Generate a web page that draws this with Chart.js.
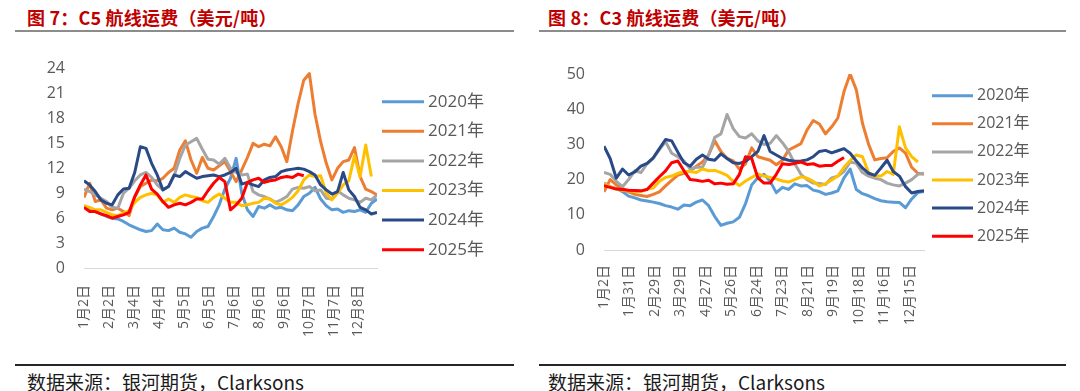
<!DOCTYPE html>
<html>
<head>
<meta charset="utf-8">
<script src="https://cdn.jsdelivr.net/npm/chart.js@4.4.1/dist/chart.umd.min.js"></script>
<style>
  html, body { margin: 0; padding: 0; background: #fff; }
  body { width: 1080px; height: 391px; position: relative; overflow: hidden; font-family: "Noto Sans CJK SC", sans-serif; }
  .title { position: absolute; top: 4px; font-size: 18px; font-weight: bold; color: #c00000; white-space: nowrap; letter-spacing: 0.2px; }
  .rule { position: absolute; height: 2px; background: #8c8c8c; }
  .rule.bottom { background: #262626; }
  .source { position: absolute; top: 368px; font-size: 19px; color: #1a1a1a; white-space: nowrap; }
  .box { position: absolute; top: 40px; width: 540px; height: 320px; }
</style>
</head>
<body>
<div class="title" style="left:27px">图 7：C5 航线运费（美元/吨）</div>
<div class="title" style="left:548px">图 8：C3 航线运费（美元/吨）</div>
<div class="rule" style="left:15px; top:30px; width:499px"></div>
<div class="rule" style="left:539px; top:30px; width:527px"></div>

<div class="box" style="left:0"><canvas id="c5Chart"></canvas></div>
<div class="box" style="left:540px"><canvas id="c3Chart"></canvas></div>

<div class="rule bottom" style="left:15px; top:364px; width:499px"></div>
<div class="rule bottom" style="left:539px; top:364px; width:527px"></div>
<div class="source" style="left:27px">数据来源：银河期货，Clarksons</div>
<div class="source" style="left:548px">数据来源：银河期货，Clarksons</div>

<script>
// Sample days (day 0 = 1月2日), weekly
const days = [0, 7, 14, 21, 28, 35, 42, 49, 56, 63, 70, 77, 84, 91, 98, 105, 112, 119, 126, 133,
    140, 147, 154, 161, 168, 175, 182, 189, 196, 203, 210, 217, 224, 231, 238, 245, 252, 259, 266, 273,
    280, 287, 294, 301, 308, 315, 322, 329, 336, 343, 350, 357, 364];

const years = ['2020年', '2021年', '2022年', '2023年', '2024年', '2025年'];
const colors = ['#5b9bd5', '#ed7d31', '#a5a5a5', '#ffc000', '#2a4a87', '#ff0000'];

// C5 (美元/吨)
const c5_2020 = [7.5, 7.0, 6.8, 6.5, 6.2, 6.0, 5.9, 5.6, 5.2, 4.9, 4.6, 4.4, 4.5, 5.3, 4.6, 4.5, 4.8, 4.3, 4.1, 3.7,
    4.4, 4.8, 5.0, 6.2, 7.6, 9.5, 10.8, 13.2, 9.0, 7.0, 6.2, 7.4, 7.2, 7.6, 7.2, 7.3, 7.0, 6.9, 7.6, 8.6,
    9.0, 9.7, 8.3, 7.5, 7.0, 7.1, 6.7, 6.9, 6.8, 7.0, 6.7, 7.8, 8.3];
const c5_2021 = [8.5, 10.2, 8.0, 8.2, 7.2, 7.0, 7.2, 6.8, 6.3, 8.5, 9.8, 10.2, 10.6, 10.5, 10.8, 11.5, 12.0, 14.2, 15.3, 13.0,
    11.4, 13.3, 12.0, 11.8, 12.3, 12.8, 11.6, 10.4, 11.8, 13.3, 15.0, 14.6, 14.9, 14.7, 15.8, 14.6, 12.8, 16.5, 19.8, 22.6,
    23.4, 18.5, 15.2, 12.6, 10.6, 12.0, 12.8, 13.0, 14.5, 11.0, 9.5, 9.2, 8.8];
const c5_2022 = [9.5, 9.2, 8.8, 8.4, 8.0, 7.3, 7.2, 9.0, 9.6, 10.5, 11.2, 11.5, 10.9, 10.0, 9.4, 9.8, 11.1, 13.2, 14.8, 15.2,
    15.6, 14.3, 13.1, 13.0, 12.5, 13.2, 12.0, 11.5, 11.2, 11.3, 9.2, 8.8, 8.6, 8.3, 7.9, 8.2, 8.6, 9.5, 9.7, 9.6,
    9.8, 9.3, 9.4, 8.4, 8.3, 9.3, 8.8, 8.4, 8.2, 7.9, 8.4, 8.2, 8.8];
const c5_2023 = [7.5, 7.3, 7.0, 7.0, 6.7, 6.4, 6.3, 6.6, 6.9, 7.9, 8.5, 8.8, 9.0, 8.8, 7.9, 8.3, 7.9, 8.5, 8.8, 8.6,
    8.5, 8.1, 7.9, 8.5, 8.9, 8.4, 7.9, 7.9, 7.5, 7.6, 7.8, 7.9, 8.4, 8.3, 7.8, 7.6, 8.0, 8.5, 9.3, 10.6,
    11.2, 11.0, 11.1, 9.0, 8.2, 9.0, 10.0, 10.5, 13.5, 11.0, 14.8, 11.0];
const c5_2024 = [10.5, 10.0, 9.2, 8.2, 7.8, 7.6, 8.8, 9.5, 9.6, 11.5, 14.6, 14.4, 12.6, 11.2, 9.4, 9.8, 11.2, 11.0, 11.6, 11.2,
    10.8, 11.0, 11.1, 11.2, 11.0, 11.2, 11.5, 12.0, 10.1, 10.3, 10.0, 9.8, 10.6, 10.9, 11.0, 11.6, 11.8, 11.9, 12.0, 11.9,
    11.6, 11.2, 10.0, 9.4, 8.9, 9.2, 11.5, 9.4, 8.6, 7.3, 7.0, 6.5, 6.7];
const c5_2025 = [7.3, 6.8, 6.8, 6.5, 6.3, 6.0, 6.2, 6.4, 6.7, 8.6, 10.0, 11.2, 9.5, 8.9, 8.0, 7.3, 7.6, 7.8, 7.6, 7.9,
    8.3, 8.3, 9.3, 10.2, 10.9, 10.4, 7.0, 7.6, 8.4, 10.3, 10.6, 10.8, 10.3, 10.5, 10.6, 10.9, 11.0, 10.9, 11.3, 11.1];

// C3 (美元/吨)
const c3_2020 = [19.0, 18.0, 17.5, 16.6, 15.3, 14.8, 14.2, 13.9, 13.6, 13.2, 12.6, 12.2, 11.6, 12.8, 12.6, 13.6, 14.2, 12.6, 9.5, 7.0,
    7.6, 8.0, 9.3, 13.2, 18.5, 20.5, 21.5, 19.5, 16.3, 17.8, 17.2, 18.8, 18.2, 18.3, 17.0, 16.6, 15.8, 16.2, 16.8, 20.5,
    23.0, 17.2, 16.0, 15.4, 14.6, 14.0, 13.7, 13.6, 13.5, 12.0, 14.5, 16.3, 16.6];
const c3_2021 = [16.5, 20.0, 18.5, 17.5, 16.5, 15.8, 15.5, 15.2, 15.8, 16.5, 18.2, 19.8, 21.3, 21.8, 22.5, 23.8, 25.0, 27.0, 31.0, 28.0,
    26.0, 25.3, 23.0, 24.5, 29.0, 26.5, 26.0, 25.5, 24.2, 25.5, 28.4, 29.3, 30.2, 34.1, 36.8, 35.8, 33.0, 35.0, 37.5, 45.0,
    50.0, 45.5, 36.0, 30.0, 25.6, 26.0, 26.2, 28.0, 29.0, 27.5, 23.5, 21.8, 21.5];
const c3_2022 = [22.0, 21.5, 19.5, 18.0, 20.0, 22.5, 22.0, 24.5, 26.0, 28.5, 30.8, 27.5, 26.5, 25.3, 23.0, 23.5, 23.5, 27.0, 32.0, 33.0,
    38.5, 34.5, 32.2, 31.8, 33.0, 31.0, 30.0, 30.3, 32.5, 30.5, 28.0, 24.5, 21.5, 20.0, 19.0, 18.9, 18.6, 20.5, 21.0, 22.3,
    25.0, 24.6, 22.0, 21.0, 20.4, 20.0, 19.0, 18.5, 18.2, 19.0, 20.0, 21.5, 21.8];
const c3_2023 = [18.8, 18.0, 17.3, 17.0, 16.8, 16.6, 16.6, 17.3, 17.6, 19.5, 20.6, 21.0, 21.8, 22.3, 22.3, 22.0, 23.0, 22.5, 22.6, 22.0,
    21.2, 19.5, 18.3, 19.6, 20.6, 21.6, 21.0, 20.6, 20.2, 19.6, 19.3, 20.0, 20.8, 20.4, 19.5, 18.2, 18.8, 19.9, 21.0, 23.5,
    25.4, 27.0, 26.5, 22.0, 21.0, 21.0, 22.3, 21.5, 35.0, 29.0, 26.5, 25.0];
const c3_2024 = [29.5, 26.0, 20.4, 23.0, 21.3, 22.2, 23.8, 24.6, 26.2, 28.8, 31.4, 31.0, 27.8, 24.8, 23.8, 25.8, 27.0, 25.8, 25.5, 27.3,
    26.0, 24.8, 24.6, 25.2, 26.5, 28.0, 32.5, 28.0, 27.0, 26.0, 25.5, 25.2, 25.3, 25.6, 26.5, 28.0, 28.3, 27.6, 28.2, 28.8,
    27.5, 25.3, 23.3, 21.8, 21.2, 23.3, 25.5, 22.3, 21.0, 18.0, 16.2, 16.6, 16.8];
const c3_2025 = [18.3, 17.8, 17.3, 17.2, 17.0, 16.9, 16.8, 17.2, 19.0, 20.8, 22.5, 24.8, 25.3, 22.5, 20.0, 19.8, 19.5, 19.8, 18.8, 19.0,
    18.7, 18.8, 21.5, 26.5, 26.0, 20.5, 19.0, 19.0, 21.5, 24.5, 24.3, 24.6, 25.0, 24.3, 24.5, 23.8, 24.0, 24.0, 25.2, 26.3];

// Tick labels
const c5Ticks = ['1月2日', '2月2日', '3月4日', '4月4日', '5月5日', '6月5日', '7月6日', '8月6日', '9月6日', '10月7日', '11月7日', '12月8日'];
const c3Ticks = ['1月2日', '1月31日', '2月29日', '3月29日', '4月27日', '5月26日', '6月24日', '7月23日', '8月21日', '9月19日', '10月18日', '11月16日', '12月15日'];

Chart.defaults.font.family = '"Open Sans", "Noto Sans CJK SC", sans-serif';
Chart.defaults.color = '#595959';

// legend drawn as short line + text, Excel style
const lineLegend = {
    id: 'lineLegend',
    afterDraw(chart, args, opts) {
        const c = chart.ctx;
        c.save();
        c.font = opts.font;
        c.textBaseline = 'middle';
        chart.data.datasets.forEach((ds, i) => {
            const y = opts.y + i * opts.gap;
            c.strokeStyle = ds.borderColor;
            c.lineWidth = 3;
            c.beginPath();
            c.moveTo(opts.x, y);
            c.lineTo(opts.x + opts.len, y);
            c.stroke();
            c.fillStyle = '#595959';
            c.fillText(ds.label, opts.x + opts.len + 4, y);
        });
        c.restore();
    }
};

function buildChart(id, series, ticks, step, yMax, yStep, g) {
    const datasets = series.map((vals, i) => ({
        label: years[i],
        data: vals.map((v, j) => ({ x: days[j], y: v })),
        borderColor: colors[i],
        backgroundColor: colors[i],
        borderWidth: 3,
        pointRadius: 0,
        tension: 0,
        borderJoinStyle: 'round',
        order: series.length - i
    }));

    return new Chart(document.getElementById(id), {
        type: 'line',
        data: { datasets },
        plugins: [lineLegend],
        options: {
            responsive: true,
            maintainAspectRatio: false,
            animation: false,
            layout: { padding: { left: 0, right: g.padRight, top: g.padTop, bottom: 0 } },
            scales: {
                x: {
                    type: 'linear',
                    min: 0,
                    max: 364,
                    afterBuildTicks: s => { s.ticks = ticks.map((t, i) => ({ value: i * step })); },
                    afterFit: s => { s.height = g.xHeight; },
                    grid: { display: false, drawTicks: false },
                    border: { color: '#d9d9d9', width: 1 },
                    ticks: {
                        autoSkip: false,
                        minRotation: 90,
                        maxRotation: 90,
                        padding: g.xPad,
                        font: { size: 14 },
                        callback: (v, i) => ticks[i]
                    }
                },
                y: {
                    min: 0,
                    max: yMax,
                    afterFit: s => { s.width = g.yWidth; },
                    grid: { display: false, drawTicks: false },
                    border: { display: false },
                    ticks: { stepSize: yStep, padding: 19, font: { size: 16 } }
                }
            },
            plugins: {
                legend: { display: false },
                tooltip: { enabled: false },
                lineLegend: g.legend
            }
        }
    });
}

buildChart('c5Chart', [c5_2020, c5_2021, c5_2022, c5_2023, c5_2024, c5_2025], c5Ticks, 31, 24, 3, {
    padRight: 163, padTop: 26, xHeight: 92, yWidth: 84, xPad: 17,
    legend: { x: 382, y: 61.7, gap: 29.6, len: 42, font: '17px "Open Sans", "Noto Sans CJK SC"' }
});

buildChart('c3Chart', [c3_2020, c3_2021, c3_2022, c3_2023, c3_2024, c3_2025], c3Ticks, 29, 50, 5, {
    padRight: 156, padTop: 34, xHeight: 110, yWidth: 64, xPad: 15,
    legend: { x: 392, y: 55.7, gap: 28.1, len: 41, font: '16px "Open Sans", "Noto Sans CJK SC"' }
});
</script>
</body>
</html>
